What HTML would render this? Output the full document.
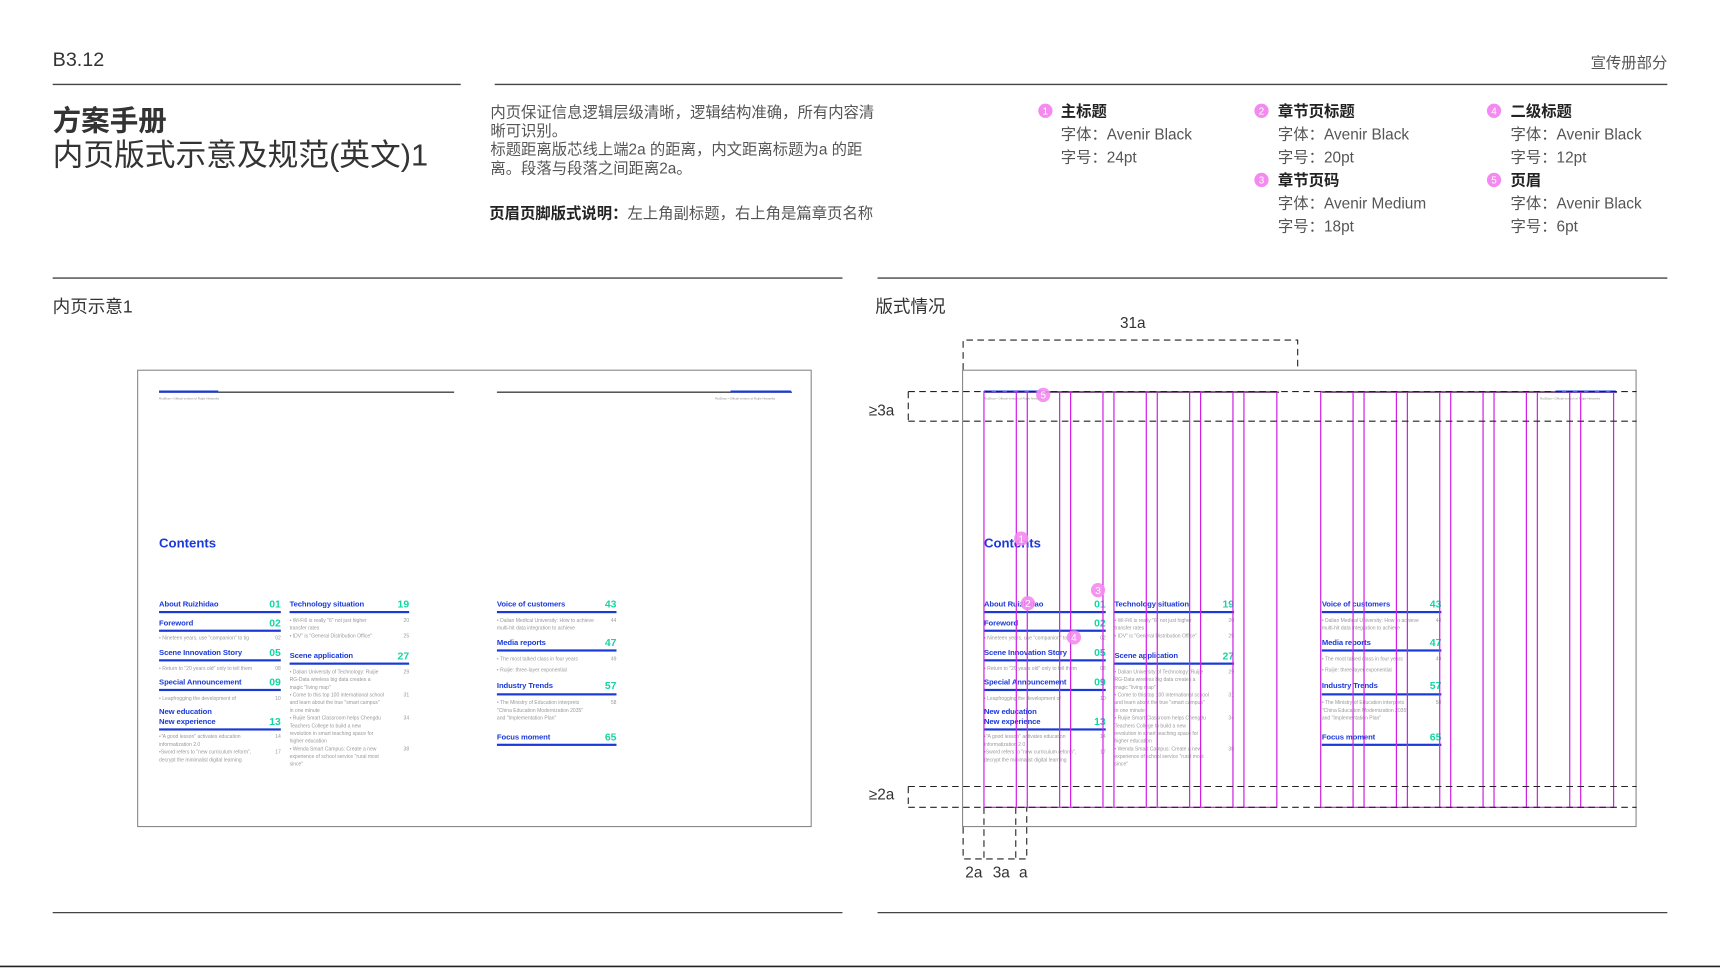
<!DOCTYPE html>
<html><head><meta charset="utf-8">
<style>
html,body{margin:0;padding:0;background:#fff;width:1720px;height:968px;overflow:hidden}
#w{position:absolute;left:0;top:0;width:1568px;height:882px;transform:scale(1.09694);transform-origin:0 0;font-family:"Liberation Sans","Noto Sans CJK SC",sans-serif;color:#333}
.a{position:absolute;white-space:nowrap}
.sp{position:absolute;width:615px;height:417px;border:1px solid #888;box-sizing:border-box;background:#fff}
.t{position:absolute;font-weight:bold;font-size:7px;line-height:8px;color:#1a3ad8;white-space:nowrap;letter-spacing:-0.1px}
.n{position:absolute;font-weight:bold;font-size:9.5px;line-height:10px;color:#14d6a2;text-align:right;width:30px}
.u{position:absolute;height:1.5px;background:#1a3ad8}
.b{position:absolute;font-size:4.6px;line-height:7px;color:#999;white-space:nowrap;overflow:hidden}
.p{position:absolute;font-size:4.6px;line-height:7px;color:#999;text-align:right;width:12px}
.hl{position:absolute;height:1px;background:#111}
.hb{position:absolute;height:2px;background:#1a3ad8}
.tiny{position:absolute;font-size:2.8px;color:#888;white-space:nowrap}
.ct{position:absolute;font-weight:bold;font-size:12px;color:#1a3ad8}
.lg{position:absolute;font-size:14px;line-height:21px;color:#555}
.lg b{color:#222}
</style></head><body><div id="w">

<div class="a" style="left:48px;top:44px;font-size:18px;color:#333">B3.12</div>
<div class="a" style="right:48px;top:47px;font-size:14px;color:#555">宣传册部分</div>
<div class="a" style="left:48px;top:90px;font-size:26px;font-weight:bold;color:#333">方案手册</div>
<div class="a" style="left:48px;top:120px;font-size:28px;color:#333">内页版式示意及规范(英文)1</div>
<div class="a" style="left:447px;top:94px;font-size:14px;line-height:17px;color:#555;white-space:normal;width:362px">内页保证信息逻辑层级清晰，逻辑结构准确，所有内容清晰可识别。<br>标题距离版芯线上端2a 的距离，内文距离标题为a 的距离。段落与段落之间距离2a。</div>
<div class="a" style="left:446px;top:184px;font-size:14px;color:#555"><b style="color:#222">页眉页脚版式说明：</b>左上角副标题，右上角是篇章页名称</div>

<div class="lg" style="left:967px;top:91px"><b>主标题</b><br>字体：Avenir Black<br>字号：24pt</div>
<div class="lg" style="left:1165px;top:91px"><b>章节页标题</b><br>字体：Avenir Black<br>字号：20pt<br><b>章节页码</b><br>字体：Avenir Medium<br>字号：18pt</div>
<div class="lg" style="left:1377px;top:91px"><b>二级标题</b><br>字体：Avenir Black<br>字号：12pt<br><b>页眉</b><br>字体：Avenir Black<br>字号：6pt</div>

<div class="a" style="left:48px;top:266px;font-size:16px;color:#333">内页示意1</div>
<div class="a" style="left:798px;top:266px;font-size:16px;color:#333">版式情况</div>
<div class="a" style="left:1021px;top:286px;font-size:14px;color:#333">31a</div>
<div class="a" style="left:792px;top:366px;font-size:14px;color:#333">≥3a</div>
<div class="a" style="left:792px;top:716px;font-size:14px;color:#333">≥2a</div>
<div class="a" style="left:880px;top:787px;font-size:14px;color:#333">2a</div>
<div class="a" style="left:905px;top:787px;font-size:14px;color:#333">3a</div>
<div class="a" style="left:929px;top:787px;font-size:14px;color:#333">a</div>

<!-- spread 1 -->
<div class="sp" style="left:125px;top:337px">
<div class="hl" style="left:19px;top:19px;width:269px"></div><div class="hb" style="left:19px;top:18px;width:54px"></div>
<div class="hl" style="left:327px;top:19px;width:269px"></div><div class="hb" style="left:540px;top:18px;width:55px"></div>
<div class="tiny" style="left:19px;top:23px">RuiZhao • Official version of Ruijie Networks</div>
<div class="tiny" style="left:526px;top:23px">RuiZhao • Official version of Ruijie Networks</div>
<div class="ct" style="left:19px;top:150px">Contents</div>
<div class="t" style="left:19px;top:210px">About Ruizhidao</div><div class="n" style="left:100px;top:209px">01</div><div class="u" style="left:19px;top:219px;width:111px"></div>
<div class="t" style="left:19px;top:227px">Foreword</div><div class="n" style="left:100px;top:226px">02</div><div class="u" style="left:19px;top:236px;width:111px"></div>
<div class="b" style="left:19px;top:240px;width:96px">• Nineteen years, use "companion" to tig</div><div class="p" style="left:118px;top:240px">02</div>
<div class="t" style="left:19px;top:254px">Scene Innovation Story</div><div class="n" style="left:100px;top:253px">05</div><div class="u" style="left:19px;top:263px;width:111px"></div>
<div class="b" style="left:19px;top:268px;width:96px">• Return to "20 years old" only to tell them</div><div class="p" style="left:118px;top:268px">08</div>
<div class="t" style="left:19px;top:281px">Special Announcement</div><div class="n" style="left:100px;top:280px">09</div><div class="u" style="left:19px;top:290px;width:111px"></div>
<div class="b" style="left:19px;top:295px;width:96px">• Leapfrogging the development of</div><div class="p" style="left:118px;top:295px">10</div>
<div class="t" style="left:19px;top:308px">New education</div><div class="t" style="left:19px;top:317px">New experience</div><div class="n" style="left:100px;top:316px">13</div><div class="u" style="left:19px;top:326px;width:111px"></div>
<div class="b" style="left:19px;top:330px;width:96px">•"A good lesson" activates education<br>informatization 2.0<br>•Sword refers to "new curriculum reform",<br>decrypt the minimalist digital learning</div><div class="p" style="left:118px;top:330px">14<br><br>17</div>
<div class="t" style="left:138px;top:210px">Technology situation</div><div class="n" style="left:217px;top:209px">19</div><div class="u" style="left:138px;top:219px;width:109px"></div>
<div class="b" style="left:138px;top:224px;width:96px">• Wi-Fi6 is really "6" not just higher<br>transfer rates<br>• IDV" is "General Distribution Office"</div><div class="p" style="left:235px;top:224px">20<br><br>25</div>
<div class="t" style="left:138px;top:257px">Scene application</div><div class="n" style="left:217px;top:256px">27</div><div class="u" style="left:138px;top:266px;width:109px"></div>
<div class="b" style="left:138px;top:271px;width:96px">• Dalian University of Technology: Ruijie<br>RG-Data wireless big data creates a<br>magic "living map"<br>• Come to this top 100 international school<br>and learn about the true "smart campus"<br>in one minute<br>• Ruijie Smart Classroom helps Chengdu<br>Teachers College to build a new<br>revolution in smart teaching space for<br>higher education<br>• Wenda Smart Campus: Create a new<br>experience of school service "rural most<br>since"</div><div class="p" style="left:235px;top:271px">29<br><br><br>31<br><br><br>34<br><br><br><br>38</div>
<div class="t" style="left:327px;top:210px">Voice of customers</div><div class="n" style="left:406px;top:209px">43</div><div class="u" style="left:327px;top:219px;width:109px"></div>
<div class="b" style="left:327px;top:224px;width:96px">• Dalian Medical University: How to achieve<br>multi-hit data integration to achieve</div><div class="p" style="left:424px;top:224px">44</div>
<div class="t" style="left:327px;top:245px">Media reports</div><div class="n" style="left:406px;top:244px">47</div><div class="u" style="left:327px;top:254px;width:109px"></div>
<div class="b" style="left:327px;top:259px;width:96px">• The most talked class in four years</div><div class="p" style="left:424px;top:259px">49</div>
<div class="b" style="left:327px;top:269px;width:96px">• Ruijie: three-layer exponential</div>
<div class="t" style="left:327px;top:284px">Industry Trends</div><div class="n" style="left:406px;top:283px">57</div><div class="u" style="left:327px;top:294px;width:109px"></div>
<div class="b" style="left:327px;top:299px;width:96px">• The Ministry of Education interprets<br>"China Education Modernization 2035"<br>and "Implementation Plan"</div><div class="p" style="left:424px;top:299px">58</div>
<div class="t" style="left:327px;top:331px">Focus moment</div><div class="n" style="left:406px;top:330px">65</div><div class="u" style="left:327px;top:340px;width:109px"></div>
</div>

<!-- spread 2 -->
<div class="sp" style="left:877px;top:337px">
<div class="hl" style="left:19px;top:19px;width:269px"></div><div class="hb" style="left:19px;top:18px;width:54px"></div>
<div class="hl" style="left:327px;top:19px;width:269px"></div><div class="hb" style="left:540px;top:18px;width:55px"></div>
<div class="tiny" style="left:19px;top:23px">RuiZhao • Official version of Ruijie Networks</div>
<div class="tiny" style="left:526px;top:23px">RuiZhao • Official version of Ruijie Networks</div>
<div class="ct" style="left:19px;top:150px">Contents</div>
<div class="t" style="left:19px;top:210px">About Ruizhidao</div><div class="n" style="left:100px;top:209px">01</div><div class="u" style="left:19px;top:219px;width:111px"></div>
<div class="t" style="left:19px;top:227px">Foreword</div><div class="n" style="left:100px;top:226px">02</div><div class="u" style="left:19px;top:236px;width:111px"></div>
<div class="b" style="left:19px;top:240px;width:96px">• Nineteen years, use "companion" to tig</div><div class="p" style="left:118px;top:240px">02</div>
<div class="t" style="left:19px;top:254px">Scene Innovation Story</div><div class="n" style="left:100px;top:253px">05</div><div class="u" style="left:19px;top:263px;width:111px"></div>
<div class="b" style="left:19px;top:268px;width:96px">• Return to "20 years old" only to tell them</div><div class="p" style="left:118px;top:268px">08</div>
<div class="t" style="left:19px;top:281px">Special Announcement</div><div class="n" style="left:100px;top:280px">09</div><div class="u" style="left:19px;top:290px;width:111px"></div>
<div class="b" style="left:19px;top:295px;width:96px">• Leapfrogging the development of</div><div class="p" style="left:118px;top:295px">10</div>
<div class="t" style="left:19px;top:308px">New education</div><div class="t" style="left:19px;top:317px">New experience</div><div class="n" style="left:100px;top:316px">13</div><div class="u" style="left:19px;top:326px;width:111px"></div>
<div class="b" style="left:19px;top:330px;width:96px">•"A good lesson" activates education<br>informatization 2.0<br>•Sword refers to "new curriculum reform",<br>decrypt the minimalist digital learning</div><div class="p" style="left:118px;top:330px">14<br><br>17</div>
<div class="t" style="left:138px;top:210px">Technology situation</div><div class="n" style="left:217px;top:209px">19</div><div class="u" style="left:138px;top:219px;width:109px"></div>
<div class="b" style="left:138px;top:224px;width:96px">• Wi-Fi6 is really "6" not just higher<br>transfer rates<br>• IDV" is "General Distribution Office"</div><div class="p" style="left:235px;top:224px">20<br><br>25</div>
<div class="t" style="left:138px;top:257px">Scene application</div><div class="n" style="left:217px;top:256px">27</div><div class="u" style="left:138px;top:266px;width:109px"></div>
<div class="b" style="left:138px;top:271px;width:96px">• Dalian University of Technology: Ruijie<br>RG-Data wireless big data creates a<br>magic "living map"<br>• Come to this top 100 international school<br>and learn about the true "smart campus"<br>in one minute<br>• Ruijie Smart Classroom helps Chengdu<br>Teachers College to build a new<br>revolution in smart teaching space for<br>higher education<br>• Wenda Smart Campus: Create a new<br>experience of school service "rural most<br>since"</div><div class="p" style="left:235px;top:271px">29<br><br><br>31<br><br><br>34<br><br><br><br>38</div>
<div class="t" style="left:327px;top:210px">Voice of customers</div><div class="n" style="left:406px;top:209px">43</div><div class="u" style="left:327px;top:219px;width:109px"></div>
<div class="b" style="left:327px;top:224px;width:96px">• Dalian Medical University: How to achieve<br>multi-hit data integration to achieve</div><div class="p" style="left:424px;top:224px">44</div>
<div class="t" style="left:327px;top:245px">Media reports</div><div class="n" style="left:406px;top:244px">47</div><div class="u" style="left:327px;top:254px;width:109px"></div>
<div class="b" style="left:327px;top:259px;width:96px">• The most talked class in four years</div><div class="p" style="left:424px;top:259px">49</div>
<div class="b" style="left:327px;top:269px;width:96px">• Ruijie: three-layer exponential</div>
<div class="t" style="left:327px;top:284px">Industry Trends</div><div class="n" style="left:406px;top:283px">57</div><div class="u" style="left:327px;top:294px;width:109px"></div>
<div class="b" style="left:327px;top:299px;width:96px">• The Ministry of Education interprets<br>"China Education Modernization 2035"<br>and "Implementation Plan"</div><div class="p" style="left:424px;top:299px">58</div>
<div class="t" style="left:327px;top:331px">Focus moment</div><div class="n" style="left:406px;top:330px">65</div><div class="u" style="left:327px;top:340px;width:109px"></div>
</div>

<svg width="1568" height="882" style="position:absolute;left:0;top:0" xmlns="http://www.w3.org/2000/svg">
<g stroke="#444" stroke-width="1.2">
<line x1="48" y1="77" x2="420" y2="77"/><line x1="451" y1="77" x2="1520" y2="77"/>
<line x1="48" y1="253.5" x2="768" y2="253.5"/><line x1="800" y1="253.5" x2="1520" y2="253.5"/>
<line x1="48" y1="832" x2="768" y2="832"/><line x1="800" y1="832" x2="1520" y2="832"/>
<line x1="0" y1="881" x2="1568" y2="881" stroke="#222" stroke-width="1.5"/>
</g>
<g stroke="#d21ee6" stroke-width="1.1" fill="none">
<rect x="897" y="357" width="267" height="379"/>
<rect x="1204" y="357" width="267" height="379"/>
<path d="M926.5 357V736M936.5 357V736M966 357V736M976 357V736M1005.5 357V736M1015.5 357V736M1045 357V736M1055 357V736M1084.5 357V736M1094.5 357V736M1124 357V736M1134 357V736"/>
<path d="M1233.5 357V736M1243.5 357V736M1273 357V736M1283 357V736M1312.5 357V736M1322.5 357V736M1352 357V736M1362 357V736M1391.5 357V736M1401.5 357V736M1431 357V736M1441 357V736"/>
</g>
<g stroke="#222" stroke-width="1" stroke-dasharray="6 4" fill="none">
<path d="M878 337V310H1183V337"/>
<path d="M828 357H1492M828 384H1492M828 357V384"/>
<path d="M828 717H1492M828 736H1492M828 717V736"/>
<path d="M878 754V783H936V736M897 736V783M926 736V783"/>
</g>
<g font-family="Liberation Sans,sans-serif" font-size="9" fill="#fff" text-anchor="middle">
<circle cx="953" cy="101" r="6.5" fill="#f48af0"/><text x="953" y="104.5">1</text>
<circle cx="1150" cy="101" r="6.5" fill="#f48af0"/><text x="1150" y="104.5">2</text>
<circle cx="1150" cy="164" r="6.5" fill="#f48af0"/><text x="1150" y="167.5">3</text>
<circle cx="1362" cy="101" r="6.5" fill="#f48af0"/><text x="1362" y="104.5">4</text>
<circle cx="1362" cy="164" r="6.5" fill="#f48af0"/><text x="1362" y="167.5">5</text>
<circle cx="951" cy="360" r="6.5" fill="#f48af0" opacity="0.9"/><text x="951" y="363.5">5</text>
<circle cx="931" cy="491" r="6.5" fill="#f48af0" opacity="0.9"/><text x="931" y="494.5">1</text>
<circle cx="1001" cy="538" r="6.5" fill="#f48af0" opacity="0.9"/><text x="1001" y="541.5">3</text>
<circle cx="937" cy="550" r="6.5" fill="#f48af0" opacity="0.9"/><text x="937" y="553.5">2</text>
<circle cx="979" cy="581" r="6.5" fill="#f48af0" opacity="0.9"/><text x="979" y="584.5">4</text>
</g>
</svg>
</div></body></html>
